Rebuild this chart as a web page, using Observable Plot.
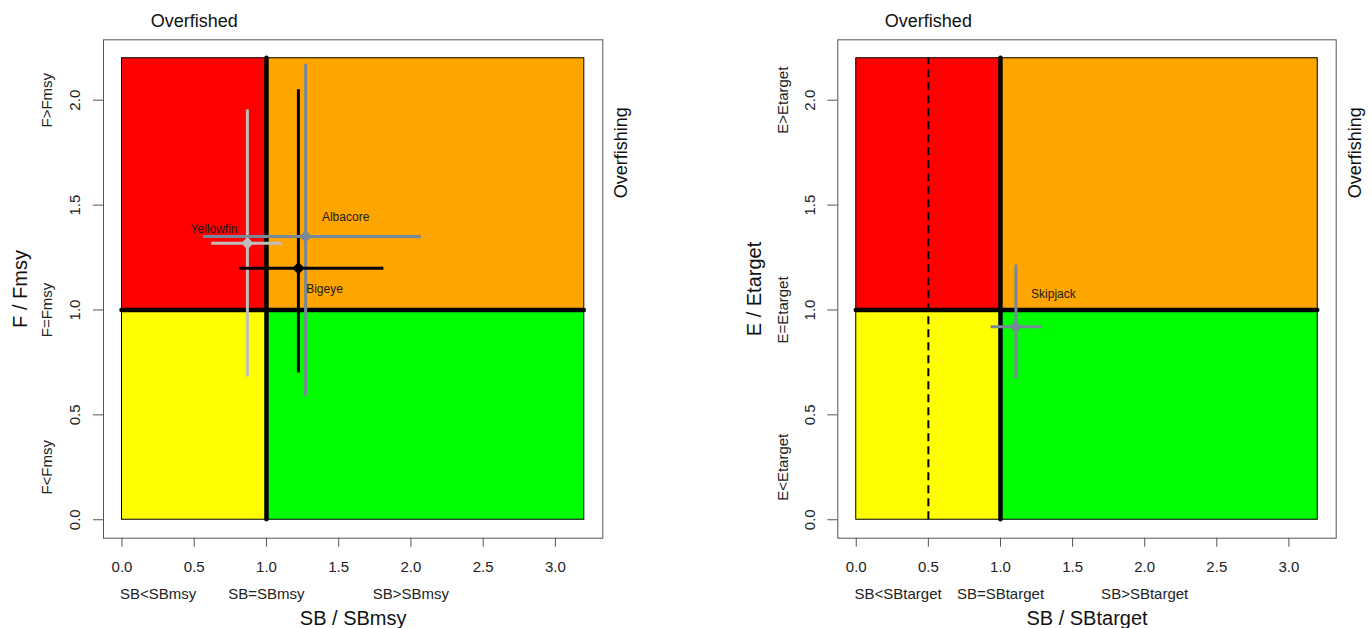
<!DOCTYPE html>
<html>
<head>
<meta charset="utf-8">
<script src="https://cdn.jsdelivr.net/npm/d3@7"></script>
<script src="https://cdn.jsdelivr.net/npm/@observablehq/plot@0.6"></script>
<style>
body { margin: 0; background: #fff; }
#wrap { position: relative; width: 1372px; height: 628px; background: #fff; overflow: hidden; }
#wrap svg { position: absolute; top: 0; }
</style>
</head>
<body>
<div id="wrap"></div>
<script>
// ---- data ----
const xTicks = [0, 0.5, 1, 1.5, 2, 2.5, 3];
const yTicks = [0, 0.5, 1, 1.5, 2];

// quadrant zones: top-left, top-right, bottom-left, bottom-right
const zoneX1 = [0, 1, 0, 1];
const zoneX2 = [1, 3.2, 1, 3.2];
const zoneY1 = [1, 1, 0, 0];
const zoneY2 = [2.2, 2.2, 1, 1];
const zoneColor = ["#FF0000", "#FFA500", "#FFFF00", "#00FF00"];

const refLineX = [1];
const refLineY = [1];
const xMax = 3.2;
const yMax = 2.2;
const limitLineRight = [0.5];

const overfishedAt = [0.5];
const overfishingAt = [1.75];

// left panel: tuna stocks (SB/SBmsy vs F/Fmsy)
const leftStocks = ["Yellowfin", "Albacore", "Bigeye"];
const leftSB = [0.868, 1.271, 1.221];
const leftSBlo = [0.621, 0.564, 0.813];
const leftSBhi = [1.110, 2.072, 1.813];
const leftF = [1.318, 1.350, 1.199];
const leftFlo = [0.680, 0.589, 0.700];
const leftFhi = [1.953, 2.172, 2.050];
const leftLabelX = [0.637, 1.548, 1.402];
const leftLabelY = [1.385, 1.443, 1.097];
const leftColor = ["#BEBEBE", "#778899", "#000000"];

// right panel: skipjack (SB/SBtarget vs E/Etarget)
const rightStocks = ["Skipjack"];
const rightSB = [1.107];
const rightSBlo = [0.935];
const rightSBhi = [1.287];
const rightE = [0.920];
const rightElo = [0.672];
const rightEhi = [1.214];
const rightLabelX = [1.367];
const rightLabelY = [1.075];
const rightColor = ["#778899"];

const leftXCats = ["SB<SBmsy", "SB=SBmsy", "SB>SBmsy"];
const leftXCatAt = [0.25, 1, 2];
const leftYCats = ["F<Fmsy", "F=Fmsy", "F>Fmsy"];
const leftYCatAt = [0.25, 1, 2];
const rightXCats = ["SB<SBtarget", "SB=SBtarget", "SB>SBtarget"];
const rightXCatAt = [0.29, 1, 2];
const rightYCats = ["E<Etarget", "E=Etarget", "E>Etarget"];
const rightYCatAt = [0.25, 1, 2];

const FONT = "'Liberation Sans', Arial, Helvetica, sans-serif";
const C = {textAnchor: "middle", lineAnchor: "middle"};

function makePanel(cfg) {
  const zones = zoneColor.map((c, i) => ({x1: zoneX1[i], x2: zoneX2[i], y1: zoneY1[i], y2: zoneY2[i], fill: c}));
  const stocks = cfg.names.map((n, i) => ({
    name: n, sb: cfg.sb[i], sbLo: cfg.sbLo[i], sbHi: cfg.sbHi[i],
    f: cfg.f[i], fLo: cfg.fLo[i], fHi: cfg.fHi[i],
    lx: cfg.lx[i], ly: cfg.ly[i], color: cfg.colors[i]
  }));
  const xCats = cfg.xCats.map((t, i) => ({t, at: cfg.xCatAt[i]}));
  const yCats = cfg.yCats.map((t, i) => ({t, at: cfg.yCatAt[i]}));
  const marks = [
    Plot.rect(zones, {x1: "x1", x2: "x2", y1: "y1", y2: "y2", fill: "fill", stroke: "#000", strokeWidth: 1}),
  ];
  if (cfg.dashed) {
    marks.push(Plot.ruleX(cfg.dashed, {x: d => d, y1: 0, y2: yMax, stroke: "#000", strokeWidth: 2, strokeDasharray: "8,5"}));
  }
  marks.push(
    Plot.ruleX(refLineX, {x: d => d, y1: 0, y2: yMax, stroke: "#000", strokeWidth: 4.5, strokeLinecap: "round"}),
    Plot.ruleY(refLineY, {y: d => d, x1: 0, x2: xMax, stroke: "#000", strokeWidth: 4.5, strokeLinecap: "round"}),
    Plot.ruleX(stocks, {x: "sb", y1: "fLo", y2: "fHi", stroke: "color", strokeWidth: 3}),
    Plot.ruleY(stocks, {y: "f", x1: "sbLo", x2: "sbHi", stroke: "color", strokeWidth: 3}),
    Plot.dot(stocks, {x: "sb", y: "f", symbol: "diamond2", r: 5.6, fill: "color", stroke: "none"}),
    Plot.text(stocks, {x: "lx", y: "ly", text: "name", fontSize: 12, fill: "#1a1a1a", ...C}),
    Plot.frame({stroke: "#555", strokeWidth: 1}),
    Plot.axisX(xTicks, {tickSize: 9, tickPadding: 14, fontSize: 15, tickFormat: d => d.toFixed(1), label: null, stroke: "#555", fill: "#222"}),
    Plot.axisY(yTicks, {tickSize: 10, tickFormat: () => "", label: null, stroke: "#555"}),
    Plot.text(yTicks, {y: d => d, text: d => d.toFixed(1), frameAnchor: "left", dx: -28, rotate: -90, fontSize: 15, fill: "#222", ...C}),
    Plot.text(yCats, {y: "at", text: "t", frameAnchor: "left", dx: cfg.yCatDx, rotate: -90, fontSize: 15, fill: "#222", ...C}),
    Plot.text(xCats, {x: "at", text: "t", frameAnchor: "bottom", dy: 56, fontSize: 15, fill: "#222", ...C}),
    Plot.text([cfg.xTitle], {text: d => d, frameAnchor: "bottom", dy: 80, fontSize: 20, fill: "#111", ...C}),
    Plot.text([cfg.yTitle], {text: d => d, frameAnchor: "left", dx: -83, rotate: -90, fontSize: 20, fill: "#111", ...C}),
    Plot.text(overfishedAt, {x: d => d, text: () => "Overfished", frameAnchor: "top", dy: -18.6, fontSize: 18, fill: "#111", ...C}),
    Plot.text(overfishingAt, {y: d => d, text: () => "Overfishing", frameAnchor: "right", dx: cfg.rightDx, rotate: -90, fontSize: 18, fill: "#111", ...C})
  );
  return Plot.plot({
    width: 686,
    height: 628,
    marginLeft: cfg.ml,
    marginRight: cfg.mr,
    marginTop: 39.3,
    marginBottom: 90.3,
    x: {domain: [-0.128, 3.328]},
    y: {domain: [-0.088, 2.288]},
    color: {type: "identity"},
    style: {fontFamily: FONT, background: "transparent", overflow: "visible"},
    marks
  });
}

const wrap = document.getElementById("wrap");
const left = makePanel({
  ml: 103, mr: 83.7,
  names: leftStocks, sb: leftSB, sbLo: leftSBlo, sbHi: leftSBhi,
  f: leftF, fLo: leftFlo, fHi: leftFhi, lx: leftLabelX, ly: leftLabelY, colors: leftColor,
  xCats: leftXCats, xCatAt: leftXCatAt, yCats: leftYCats, yCatAt: leftYCatAt,
  xTitle: "SB / SBmsy", yTitle: "F / Fmsy", yCatDx: -56, rightDx: 18.4
});
left.style.left = "0px";
wrap.appendChild(left);

const right = makePanel({
  ml: 151.3, mr: 36.3,
  names: rightStocks, sb: rightSB, sbLo: rightSBlo, sbHi: rightSBhi,
  f: rightE, fLo: rightElo, fHi: rightEhi, lx: rightLabelX, ly: rightLabelY, colors: rightColor,
  xCats: rightXCats, xCatAt: rightXCatAt, yCats: rightYCats, yCatAt: rightYCatAt,
  xTitle: "SB / SBtarget", yTitle: "E / Etarget", yCatDx: -55, rightDx: 19.3,
  dashed: limitLineRight
});
right.style.left = "686px";
wrap.appendChild(right);
</script>
</body>
</html>
